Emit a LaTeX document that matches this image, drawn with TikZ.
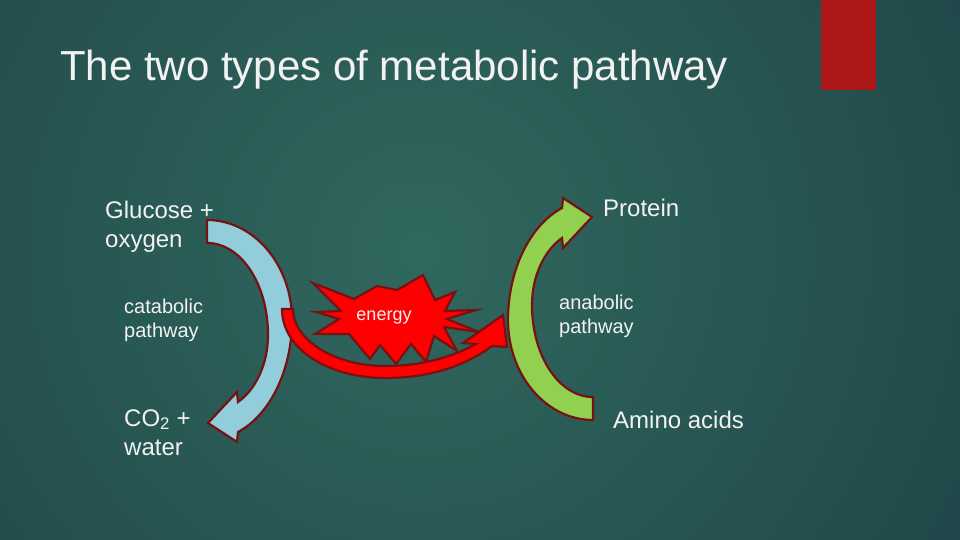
\documentclass[tikz,border=0pt]{standalone}
\usepackage{fontspec}
\setmainfont{Liberation Sans}

\definecolor{bginner}{RGB}{48,104,94}
\definecolor{bgouter}{RGB}{20,46,58}
\definecolor{cornerred}{RGB}{172,24,24}
\definecolor{catabcol}{RGB}{146,205,220}
\definecolor{anabcol}{RGB}{146,208,80}
\definecolor{rimred}{RGB}{120,18,18}
\definecolor{energyred}{RGB}{255,0,0}
\definecolor{labelwhite}{RGB}{242,242,242}

\tikzset{
  labeltext/.style={text=labelwhite, inner sep=0pt, anchor=base west, align=left},
  bandshape/.style={draw=rimred, line width=2.2pt, line join=miter},
}

\begin{document}
\begin{tikzpicture}[x=1pt,y=-1pt]
\useasboundingbox (0,0) rectangle (960,540);
% background
\begin{scope}
\clip (0,0) rectangle (960,540);
\shade[inner color=bginner, outer color=bgouter] (420,250) circle (1100);
\end{scope}
\fill[cornerred] (821,0) rectangle (876,90);

% catabolic and anabolic arrows (same shape, half turn)
\foreach \ang/\col in {0/catabcol,180/anabcol}{
\begin{scope}[rotate around={\ang:(400,320)}]
\filldraw[bandshape, fill=\col] (207,220) .. controls (254,220) and (292,265) .. (292,320)
  .. controls (292,370) and (270,415) .. (238,432) -- (237,442) -- (208,423) -- (237,392) -- (238,402)
  .. controls (255,390) and (268,365) .. (268,335) .. controls (268,284) and (241,243) .. (207,243) -- cycle;
\end{scope}
}

% explosion
\filldraw[bandshape, fill=energyred] (313,283) -- (354,299) -- (377,286) -- (397,290) -- (423,275) -- (435,300)
  -- (455,292) -- (445,311) -- (476,310) -- (447,319) -- (479,332) -- (444,327) -- (457,351) -- (434,336)
  -- (426,362) -- (411,344) -- (396,364) -- (380,345) -- (370,359) -- (349,334) -- (315,334) -- (339,319)
  -- (316,312) -- (341,311) -- cycle;
\node[text=labelwhite, font=\fontsize{18}{22}\selectfont, anchor=base] (energy) at (384,320) {energy};

% energy arrow
\filldraw[bandshape, fill=energyred] (282,309) .. controls (282,350) and (330,378) .. (385,378)
  .. controls (430,378) and (465,366) .. (492,346) -- (507,347) -- (503,315) -- (463,343) -- (476,344)
  .. controls (452,357) and (422,366) .. (385,366) .. controls (335,366) and (293,340) .. (293,309) -- cycle;

% labels (base = last line)
\node[labeltext, font=\fontsize{42}{50}\selectfont] (title) at (60,81) {The two types of metabolic pathway};
\node[labeltext, font=\fontsize{24}{29}\selectfont] (glucose) at (105,247) {Glucose +\\oxygen};
\node[labeltext, font=\fontsize{20}{24}\selectfont] (catab) at (124,337) {catabolic\\pathway};
\node[labeltext, font=\fontsize{24}{29}\selectfont] (waste) at (124,455) {CO\textsubscript{2} +\\water};
\node[labeltext, font=\fontsize{24}{29}\selectfont] (protein) at (603,216) {Protein};
\node[labeltext, font=\fontsize{20}{24}\selectfont] (anab) at (559,333) {anabolic\\pathway};
\node[labeltext, font=\fontsize{24}{29}\selectfont] (amino) at (613,428) {Amino acids};
\end{tikzpicture}
\end{document}
